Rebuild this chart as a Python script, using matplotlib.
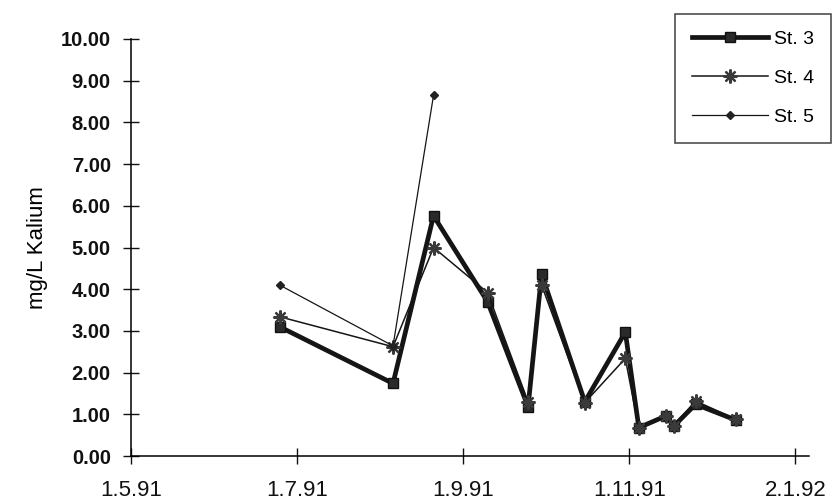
import numpy as np
import matplotlib
matplotlib.use("Agg")
import matplotlib.pyplot as plt
import matplotlib.dates as mdates

plt.rcParams["font.family"] = ["Liberation Sans", "DejaVu Sans"]

# sampling dates and potassium values (mg/L) per station
dates = np.array(
    [
        "1991-06-25", "1991-08-06", "1991-08-21", "1991-09-10", "1991-09-25",
        "1991-09-30", "1991-10-16", "1991-10-31", "1991-11-05", "1991-11-15",
        "1991-11-18", "1991-11-26", "1991-12-11",
    ],
    dtype="datetime64[D]",
)
st3 = [3.10, 1.74, 5.76, 3.70, 1.18, 4.36, 1.30, 2.97, 0.68, 0.96, 0.72, 1.24, 0.86]
st4 = [3.34, 2.62, 5.00, 3.92, 1.30, 4.10, 1.28, 2.34, 0.66, 0.96, 0.73, 1.32, 0.88]
st5 = [4.10, 2.64, 8.65] + [np.nan] * 10

xtick_labels = ["1.5.91", "1.7.91", "1.9.91", "1.11.91", "2.1.92"]
x_start = mdates.date2num(np.datetime64("1991-05-01"))
x_end = mdates.date2num(np.datetime64("1992-01-02"))
yticks = np.arange(0, 11, 1)

fig = plt.figure(figsize=(8.33, 5.01), dpi=100)
ax = fig.add_axes([131 / 833, 1 - 456 / 501, (809 - 131) / 833, (456 - 39) / 501])

x = mdates.date2num(dates)
ax.plot(x, st3, color="#151515", lw=3.4, marker="s", markersize=7.5,
        markerfacecolor="#2a2a2a", markeredgecolor="#111111", label="St. 3")
ax.plot(x, st4, color="#151515", lw=1.1, marker=(8, 2, 0), markersize=10,
        markeredgewidth=1.6, markeredgecolor="#3a3a3a", label="St. 4")
ax.plot(x, st5, color="#151515", lw=0.9, marker="D", markersize=4,
        markerfacecolor="#222222", markeredgecolor="#222222", label="St. 5")

ax.set_xlim(x_start, x_end + 5)
ax.set_xticks(np.linspace(x_start, x_end, len(xtick_labels)))
ax.set_xticklabels(xtick_labels, fontsize=16)
ax.set_ylim(0, 10)
ax.set_yticks(yticks)
ax.set_yticklabels([f"{v:.2f}" for v in yticks], fontsize=14.5, fontweight="bold")

for side in ("top", "right"):
    ax.spines[side].set_visible(False)
for side in ("left", "bottom"):
    ax.spines[side].set_linewidth(1.1)
ax.tick_params(axis="both", direction="inout", length=11, width=1.0, colors="#111111")
ax.tick_params(axis="x", pad=12)
ax.tick_params(axis="y", pad=9)

ax.set_ylabel("mg/L Kalium", fontsize=16)
ax.yaxis.set_label_coords(-0.122, 0.5)

leg = ax.legend(
    loc="upper right",
    bbox_to_anchor=(831 / 833, 1 - 14 / 501),
    bbox_transform=fig.transFigure,
    fontsize=14,
    frameon=True,
    fancybox=False,
    edgecolor="#111111",
    handlelength=3.9,
    handletextpad=0.35,
    labelspacing=1.1,
    borderpad=0.85,
    borderaxespad=0,
)
leg.get_frame().set_linewidth(1.1)

fig.savefig("out.png", dpi=100)
